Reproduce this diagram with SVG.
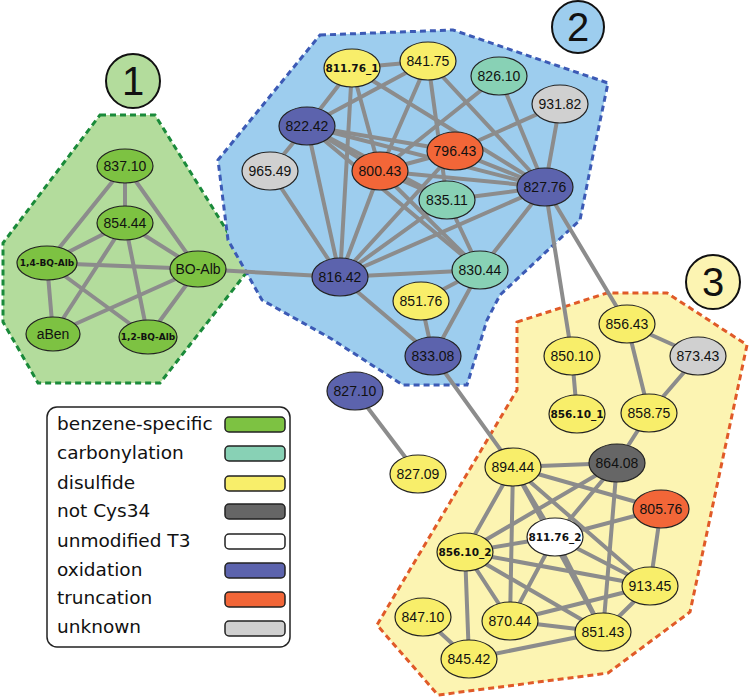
<svg xmlns="http://www.w3.org/2000/svg" width="750" height="699" viewBox="0 0 750 699">
<style>
.e{stroke:#8c8c8c;stroke-width:4;stroke-linecap:round}
.nd{stroke:#222;stroke-width:1.2}
.g{fill:#7dc242}.t{fill:#88d1b5}.y{fill:#f8ee6a}.d{fill:#666}.w{fill:#fff}.o{fill:#5c63ad}.r{fill:#f26638}.u{fill:#d0d0d0}
.lb{font-family:"Liberation Sans",Arial,sans-serif;font-size:14px;text-anchor:middle;fill:#111}
.bl{font-family:"DejaVu Sans",Verdana,sans-serif;font-weight:bold;font-size:10.5px;text-anchor:middle;fill:#111}
.bs{font-family:"DejaVu Sans",Verdana,sans-serif;font-weight:bold;font-size:9px;text-anchor:middle;fill:#111}
.cn{font-family:"Liberation Sans",Arial,sans-serif;font-size:40px;text-anchor:middle;fill:#111}
.lg{font-family:"DejaVu Sans",Verdana,sans-serif;font-size:18.5px;fill:#111}
.sw{stroke:#222;stroke-width:1.5}
</style>
<g id="clusters">
<polygon points="100,115 155,115 250,268 160,383 38,383 3,322 3,243" fill="#b3dc9c" stroke="#1a8a3a" stroke-width="3" stroke-dasharray="6 4"/>
<polygon points="320,35 453,30 608,83 594,150 580,220 500,295 487,320 467,385 403,385 330,338 262,300 228,240 218,160" fill="#9dcdee" stroke="#3c5ab5" stroke-width="3" stroke-dasharray="6 4"/>
<polygon points="517,322 607,293 667,293 747,345 690,612 608,673 438,695 377,625 517,390" fill="#fcf4b2" stroke="#e05a28" stroke-width="3" stroke-dasharray="6 4"/>
</g>
<g id="cluster-labels">
<g id="label1"><circle cx="133" cy="81" r="27" fill="#b3dc9c" stroke="#111" stroke-width="2"/><text class="cn" x="133" y="95">1</text></g>
<g id="label2"><circle cx="578" cy="27" r="26" fill="#9dcdee" stroke="#111" stroke-width="2"/><text class="cn" x="578" y="41">2</text></g>
<g id="label3"><circle cx="713" cy="282" r="27" fill="#fcf4b2" stroke="#111" stroke-width="2"/><text class="cn" x="713" y="296">3</text></g>
</g>
<g id="connectors">
<line class="e" x1="125" y1="166" x2="125" y2="223"/>
<line class="e" x1="125" y1="166" x2="47" y2="263"/>
<line class="e" x1="125" y1="166" x2="198" y2="269"/>
<line class="e" x1="125" y1="223" x2="47" y2="263"/>
<line class="e" x1="125" y1="223" x2="198" y2="269"/>
<line class="e" x1="125" y1="223" x2="53" y2="334"/>
<line class="e" x1="125" y1="223" x2="148" y2="337"/>
<line class="e" x1="47" y1="263" x2="198" y2="269"/>
<line class="e" x1="47" y1="263" x2="53" y2="334"/>
<line class="e" x1="47" y1="263" x2="148" y2="337"/>
<line class="e" x1="53" y1="334" x2="198" y2="269"/>
<line class="e" x1="198" y1="269" x2="148" y2="337"/>
<line class="e" x1="198" y1="269" x2="340" y2="277"/>
<line class="e" x1="352" y1="68" x2="428" y2="61"/>
<line class="e" x1="352" y1="68" x2="307" y2="126"/>
<line class="e" x1="352" y1="68" x2="340" y2="277"/>
<line class="e" x1="352" y1="68" x2="380" y2="171"/>
<line class="e" x1="352" y1="68" x2="545" y2="187"/>
<line class="e" x1="428" y1="61" x2="307" y2="126"/>
<line class="e" x1="428" y1="61" x2="380" y2="171"/>
<line class="e" x1="428" y1="61" x2="447" y2="200"/>
<line class="e" x1="428" y1="61" x2="545" y2="187"/>
<line class="e" x1="499" y1="76" x2="380" y2="171"/>
<line class="e" x1="499" y1="76" x2="545" y2="187"/>
<line class="e" x1="560" y1="104" x2="455" y2="151"/>
<line class="e" x1="560" y1="104" x2="545" y2="187"/>
<line class="e" x1="307" y1="126" x2="270" y2="171"/>
<line class="e" x1="307" y1="126" x2="340" y2="277"/>
<line class="e" x1="307" y1="126" x2="380" y2="171"/>
<line class="e" x1="307" y1="126" x2="455" y2="151"/>
<line class="e" x1="307" y1="126" x2="545" y2="187"/>
<line class="e" x1="307" y1="126" x2="447" y2="200"/>
<line class="e" x1="307" y1="126" x2="480" y2="270"/>
<line class="e" x1="270" y1="171" x2="340" y2="277"/>
<line class="e" x1="380" y1="171" x2="455" y2="151"/>
<line class="e" x1="380" y1="171" x2="545" y2="187"/>
<line class="e" x1="380" y1="171" x2="447" y2="200"/>
<line class="e" x1="380" y1="171" x2="480" y2="270"/>
<line class="e" x1="380" y1="171" x2="340" y2="277"/>
<line class="e" x1="455" y1="151" x2="545" y2="187"/>
<line class="e" x1="455" y1="151" x2="340" y2="277"/>
<line class="e" x1="447" y1="200" x2="545" y2="187"/>
<line class="e" x1="447" y1="200" x2="480" y2="270"/>
<line class="e" x1="447" y1="200" x2="340" y2="277"/>
<line class="e" x1="545" y1="187" x2="480" y2="270"/>
<line class="e" x1="545" y1="187" x2="340" y2="277"/>
<line class="e" x1="340" y1="277" x2="480" y2="270"/>
<line class="e" x1="340" y1="277" x2="433" y2="356"/>
<line class="e" x1="480" y1="270" x2="421" y2="301"/>
<line class="e" x1="480" y1="270" x2="433" y2="356"/>
<line class="e" x1="421" y1="301" x2="433" y2="356"/>
<line class="e" x1="545" y1="187" x2="572" y2="356"/>
<line class="e" x1="545" y1="187" x2="627" y2="324"/>
<line class="e" x1="433" y1="356" x2="513" y2="467"/>
<line class="e" x1="355" y1="391" x2="418" y2="474"/>
<line class="e" x1="572" y1="356" x2="577" y2="414"/>
<line class="e" x1="627" y1="324" x2="698" y2="356"/>
<line class="e" x1="627" y1="324" x2="649" y2="413"/>
<line class="e" x1="698" y1="356" x2="649" y2="413"/>
<line class="e" x1="649" y1="413" x2="617" y2="463"/>
<line class="e" x1="513" y1="467" x2="617" y2="463"/>
<line class="e" x1="513" y1="467" x2="465" y2="552"/>
<line class="e" x1="513" y1="467" x2="555" y2="537"/>
<line class="e" x1="513" y1="467" x2="510" y2="621"/>
<line class="e" x1="513" y1="467" x2="661" y2="509"/>
<line class="e" x1="513" y1="467" x2="650" y2="586"/>
<line class="e" x1="513" y1="467" x2="603" y2="632"/>
<line class="e" x1="617" y1="463" x2="465" y2="552"/>
<line class="e" x1="617" y1="463" x2="555" y2="537"/>
<line class="e" x1="617" y1="463" x2="603" y2="632"/>
<line class="e" x1="661" y1="509" x2="555" y2="537"/>
<line class="e" x1="661" y1="509" x2="650" y2="586"/>
<line class="e" x1="555" y1="537" x2="465" y2="552"/>
<line class="e" x1="555" y1="537" x2="510" y2="621"/>
<line class="e" x1="555" y1="537" x2="603" y2="632"/>
<line class="e" x1="555" y1="537" x2="650" y2="586"/>
<line class="e" x1="465" y1="552" x2="650" y2="586"/>
<line class="e" x1="465" y1="552" x2="510" y2="621"/>
<line class="e" x1="465" y1="552" x2="603" y2="632"/>
<line class="e" x1="465" y1="552" x2="469" y2="659"/>
<line class="e" x1="510" y1="621" x2="650" y2="586"/>
<line class="e" x1="510" y1="621" x2="603" y2="632"/>
<line class="e" x1="650" y1="586" x2="603" y2="632"/>
<line class="e" x1="423" y1="617" x2="469" y2="659"/>
<line class="e" x1="469" y1="659" x2="603" y2="632"/>
</g>
<g id="nodes">
<g id="n837_10"><ellipse class="nd g" cx="125" cy="166" rx="28" ry="17"/><text class="lb" x="125" y="171">837.10</text></g>
<g id="n854_44"><ellipse class="nd g" cx="125" cy="223" rx="28" ry="17"/><text class="lb" x="125" y="228">854.44</text></g>
<g id="n14_BQ_Alb"><ellipse class="nd g" cx="47" cy="263" rx="30" ry="17"/><text class="bs" x="47" y="266">1,4-BQ-Alb</text></g>
<g id="nBO_Alb"><ellipse class="nd g" cx="198" cy="269" rx="28" ry="18"/><text class="lb" x="198" y="274">BO-Alb</text></g>
<g id="naBen"><ellipse class="nd g" cx="53" cy="334" rx="27" ry="17"/><text class="lb" x="53" y="339">aBen</text></g>
<g id="n12_BQ_Alb"><ellipse class="nd g" cx="148" cy="337" rx="29" ry="17"/><text class="bs" x="148" y="340">1,2-BQ-Alb</text></g>
<g id="n811_76_1"><ellipse class="nd y" cx="352" cy="68" rx="28" ry="19"/><text class="bl" x="352" y="72">811.76_1</text></g>
<g id="n841_75"><ellipse class="nd y" cx="428" cy="61" rx="28" ry="19"/><text class="lb" x="428" y="66">841.75</text></g>
<g id="n826_10"><ellipse class="nd t" cx="499" cy="76" rx="28" ry="19"/><text class="lb" x="499" y="81">826.10</text></g>
<g id="n931_82"><ellipse class="nd u" cx="560" cy="104" rx="28" ry="19"/><text class="lb" x="560" y="109">931.82</text></g>
<g id="n822_42"><ellipse class="nd o" cx="307" cy="126" rx="28" ry="19"/><text class="lb" x="307" y="131">822.42</text></g>
<g id="n796_43"><ellipse class="nd r" cx="455" cy="151" rx="28" ry="19"/><text class="lb" x="455" y="156">796.43</text></g>
<g id="n965_49"><ellipse class="nd u" cx="270" cy="171" rx="28" ry="19"/><text class="lb" x="270" y="176">965.49</text></g>
<g id="n800_43"><ellipse class="nd r" cx="380" cy="171" rx="28" ry="19"/><text class="lb" x="380" y="176">800.43</text></g>
<g id="n827_76"><ellipse class="nd o" cx="545" cy="187" rx="28" ry="19"/><text class="lb" x="545" y="192">827.76</text></g>
<g id="n835_11"><ellipse class="nd t" cx="447" cy="200" rx="28" ry="19"/><text class="lb" x="447" y="205">835.11</text></g>
<g id="n816_42"><ellipse class="nd o" cx="340" cy="277" rx="28" ry="19"/><text class="lb" x="340" y="282">816.42</text></g>
<g id="n830_44"><ellipse class="nd t" cx="480" cy="270" rx="28" ry="19"/><text class="lb" x="480" y="275">830.44</text></g>
<g id="n851_76"><ellipse class="nd y" cx="421" cy="301" rx="28" ry="19"/><text class="lb" x="421" y="306">851.76</text></g>
<g id="n833_08"><ellipse class="nd o" cx="433" cy="356" rx="28" ry="19"/><text class="lb" x="433" y="361">833.08</text></g>
<g id="n827_10"><ellipse class="nd o" cx="355" cy="391" rx="28" ry="19"/><text class="lb" x="355" y="396">827.10</text></g>
<g id="n827_09"><ellipse class="nd y" cx="418" cy="474" rx="28" ry="19"/><text class="lb" x="418" y="479">827.09</text></g>
<g id="n850_10"><ellipse class="nd y" cx="572" cy="356" rx="28" ry="19"/><text class="lb" x="572" y="361">850.10</text></g>
<g id="n856_43"><ellipse class="nd y" cx="627" cy="324" rx="28" ry="19"/><text class="lb" x="627" y="329">856.43</text></g>
<g id="n873_43"><ellipse class="nd u" cx="698" cy="356" rx="28" ry="19"/><text class="lb" x="698" y="361">873.43</text></g>
<g id="n856_10_1"><ellipse class="nd y" cx="577" cy="414" rx="28" ry="19"/><text class="bl" x="577" y="418">856.10_1</text></g>
<g id="n858_75"><ellipse class="nd y" cx="649" cy="413" rx="28" ry="19"/><text class="lb" x="649" y="418">858.75</text></g>
<g id="n894_44"><ellipse class="nd y" cx="513" cy="467" rx="28" ry="19"/><text class="lb" x="513" y="472">894.44</text></g>
<g id="n864_08"><ellipse class="nd d" cx="617" cy="463" rx="28" ry="19"/><text class="lb" x="617" y="468">864.08</text></g>
<g id="n805_76"><ellipse class="nd r" cx="661" cy="509" rx="28" ry="19"/><text class="lb" x="661" y="514">805.76</text></g>
<g id="n811_76_2"><ellipse class="nd w" cx="555" cy="537" rx="28" ry="19"/><text class="bl" x="555" y="541">811.76_2</text></g>
<g id="n856_10_2"><ellipse class="nd y" cx="465" cy="552" rx="28" ry="19"/><text class="bl" x="465" y="556">856.10_2</text></g>
<g id="n913_45"><ellipse class="nd y" cx="650" cy="586" rx="28" ry="19"/><text class="lb" x="650" y="591">913.45</text></g>
<g id="n847_10"><ellipse class="nd y" cx="423" cy="617" rx="28" ry="19"/><text class="lb" x="423" y="622">847.10</text></g>
<g id="n870_44"><ellipse class="nd y" cx="510" cy="621" rx="28" ry="19"/><text class="lb" x="510" y="626">870.44</text></g>
<g id="n851_43"><ellipse class="nd y" cx="603" cy="632" rx="28" ry="19"/><text class="lb" x="603" y="637">851.43</text></g>
<g id="n845_42"><ellipse class="nd y" cx="469" cy="659" rx="28" ry="19"/><text class="lb" x="469" y="664">845.42</text></g>
</g>
<g id="legend">
<rect x="47" y="407" width="243" height="240" rx="10" fill="#fff" stroke="#222" stroke-width="1.5"/>
<text class="lg" x="57" y="430">benzene-specific</text><rect class="sw g" x="225" y="417" width="60" height="15" rx="4"/>
<text class="lg" x="57" y="459">carbonylation</text><rect class="sw t" x="225" y="446" width="60" height="15" rx="4"/>
<text class="lg" x="57" y="489">disulfide</text><rect class="sw y" x="225" y="476" width="60" height="15" rx="4"/>
<text class="lg" x="57" y="517">not Cys34</text><rect class="sw d" x="225" y="504" width="60" height="15" rx="4"/>
<text class="lg" x="57" y="547">unmodified T3</text><rect class="sw w" x="225" y="534" width="60" height="15" rx="4"/>
<text class="lg" x="57" y="576">oxidation</text><rect class="sw o" x="225" y="563" width="60" height="15" rx="4"/>
<text class="lg" x="57" y="604">truncation</text><rect class="sw r" x="225" y="592" width="60" height="15" rx="4"/>
<text class="lg" x="57" y="633">unknown</text><rect class="sw u" x="225" y="621" width="60" height="15" rx="4"/>
</g>
</svg>
